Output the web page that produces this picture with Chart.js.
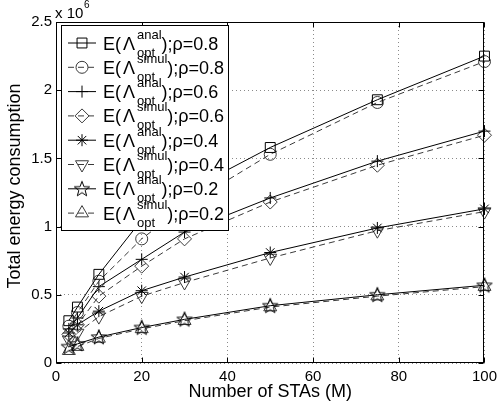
<!DOCTYPE html>
<html lang="en">

<head>
  <meta charset="UTF-8">
  <title>Total energy consumption vs number of STAs</title>
  <script src="https://cdn.jsdelivr.net/npm/chart.js"></script>
  <style>
    html, body { margin: 0; padding: 0; background: #fff; }
  </style>
</head>

<body>
  <canvas id="energyChart" width="502" height="412"></canvas>

  <script>
    // number of STAs (M) on the x axis
    const staCounts = [3, 5, 10, 20, 30, 50, 75, 100];

    // total energy consumption, in units of 10^6
    const anal08 = [0.31, 0.41, 0.65, 1.05, 1.25, 1.58, 1.93, 2.25];
    const simul08 = [0.27, 0.37, 0.60, 0.91, 1.15, 1.53, 1.91, 2.21];
    const anal06 = [0.25, 0.33, 0.56, 0.76, 0.96, 1.21, 1.48, 1.70];
    const simul06 = [0.21, 0.28, 0.49, 0.71, 0.91, 1.18, 1.45, 1.67];
    const anal04 = [0.22, 0.28, 0.38, 0.53, 0.63, 0.81, 0.99, 1.13];
    const simul04 = [0.17, 0.22, 0.34, 0.49, 0.59, 0.77, 0.97, 1.11];
    const anal02 = [0.12, 0.14, 0.19, 0.26, 0.32, 0.42, 0.50, 0.57];
    const simul02 = [0.09, 0.12, 0.18, 0.25, 0.31, 0.41, 0.49, 0.56];

    const xTicks = [0, 20, 40, 60, 80, 100];
    const yTicks = [0, 0.5, 1, 1.5, 2, 2.5];

    const family = '"Liberation Sans", Arial, Helvetica, sans-serif';
    Chart.defaults.font.family = family;
    Chart.defaults.color = '#000';

    // five pointed star marker (matlab 'p')
    function makePentagram() {
      const c = document.createElement('canvas');
      c.width = 18; c.height = 18;
      const g = c.getContext('2d');
      g.strokeStyle = '#000';
      g.lineWidth = 1;
      g.beginPath();
      for (let i = 0; i < 10; i++) {
        const r = i % 2 === 0 ? 8 : 3.3;
        const a = -Math.PI / 2 + i * Math.PI / 5;
        const px = 9 + r * Math.cos(a), py = 9.5 + r * Math.sin(a);
        if (i === 0) g.moveTo(px, py); else g.lineTo(px, py);
      }
      g.closePath();
      g.stroke();
      return c;
    }
    const pentagram = makePentagram();

    const series = [
      { kind: 'anal', rho: '0.8', values: anal08, style: 'rect', radius: 7, rot: 0 },
      { kind: 'simul', rho: '0.8', values: simul08, style: 'circle', radius: 6, rot: 0 },
      { kind: 'anal', rho: '0.6', values: anal06, style: 'cross', radius: 6, rot: 0 },
      { kind: 'simul', rho: '0.6', values: simul06, style: 'rectRot', radius: 7, rot: 0 },
      { kind: 'anal', rho: '0.4', values: anal04, style: 'star', radius: 6, rot: 0 },
      { kind: 'simul', rho: '0.4', values: simul04, style: 'triangle', radius: 7.5, rot: 180 },
      { kind: 'anal', rho: '0.2', values: anal02, style: pentagram, radius: 8, rot: 0 },
      { kind: 'simul', rho: '0.2', values: simul02, style: 'triangle', radius: 7.5, rot: 0 }
    ];

    const datasets = series.map(s => {
      const isAnal = s.kind === 'anal';
      const col = isAnal ? '#000' : '#3a3a3a';
      return {
        label: 'E(\u039B_opt^' + s.kind + ');\u03C1=' + s.rho,
        kind: s.kind,
        rho: s.rho,
        data: staCounts.map((m, i) => ({ x: m, y: s.values[i] })),
        showLine: true,
        borderColor: col,
        borderWidth: 1,
        borderDash: isAnal ? [] : [6, 4],
        pointStyle: s.style,
        pointRadius: s.radius,
        pointRotation: s.rot,
        pointBorderColor: col,
        pointBackgroundColor: 'rgba(0,0,0,0)',
        pointBorderWidth: 1,
        clip: false
      };
    });

    // matlab style box, inward ticks, legend with sub/superscripts, titles
    const matlabDecor = {
      id: 'matlabDecor',
      afterDatasetsDraw(chart) {
        const { ctx, chartArea: a, scales: { x, y } } = chart;
        const L = Math.round(a.left) + 0.5, R = Math.round(a.right) - 0.5;
        const T = Math.round(a.top) + 0.5, B = Math.round(a.bottom) - 0.5;
        ctx.save();
        ctx.setLineDash([]);
        ctx.strokeStyle = '#000';
        ctx.lineWidth = 1;
        ctx.strokeRect(L, T, R - L, B - T);

        ctx.beginPath();
        xTicks.forEach(v => {
          const px = Math.round(x.getPixelForValue(v)) + 0.5;
          ctx.moveTo(px, B); ctx.lineTo(px, B - 5);
          ctx.moveTo(px, T); ctx.lineTo(px, T + 5);
        });
        yTicks.forEach(v => {
          const py = Math.round(y.getPixelForValue(v)) + 0.5;
          ctx.moveTo(L, py); ctx.lineTo(L + 5, py);
          ctx.moveTo(R, py); ctx.lineTo(R - 5, py);
        });
        ctx.stroke();

        // exponent label
        ctx.fillStyle = '#000';
        ctx.textBaseline = 'alphabetic';
        ctx.textAlign = 'left';
        ctx.font = '15px ' + family;
        ctx.fillText('x 10', 55, 18);
        ctx.font = '10px ' + family;
        ctx.fillText('6', 84, 8);

        // axis titles
        ctx.font = '18px ' + family;
        ctx.textAlign = 'center';
        ctx.textBaseline = 'middle';
        ctx.fillText('Number of STAs (M)', (a.left + a.right) / 2, 392);
        ctx.save();
        ctx.translate(15, 186);
        ctx.rotate(-Math.PI / 2);
        ctx.fillText('Total energy consumption', 0, 0);
        ctx.restore();

        // legend
        const bx = 61.5, by = 25.5, bw = 167, bh = 205;
        ctx.fillStyle = '#fff';
        ctx.fillRect(bx, by, bw, bh);
        ctx.strokeStyle = '#000';
        ctx.strokeRect(bx, by, bw, bh);

        chart.data.datasets.forEach((ds, i) => {
          const cy = 43 + i * 24.3;
          ctx.save();
          ctx.strokeStyle = ds.borderColor;
          ctx.lineWidth = 1;
          ctx.setLineDash(ds.borderDash);
          ctx.beginPath();
          ctx.moveTo(68, cy); ctx.lineTo(96, cy);
          ctx.stroke();
          ctx.setLineDash([]);
          ctx.fillStyle = 'rgba(0,0,0,0)';
          Chart.helpers.drawPoint(ctx, {
            pointStyle: ds.pointStyle, rotation: ds.pointRotation,
            radius: ds.pointRadius, borderWidth: 1
          }, 82, cy);
          ctx.restore();

          const base = cy + 6.5;
          ctx.fillStyle = '#000';
          ctx.textAlign = 'left';
          ctx.textBaseline = 'alphabetic';
          ctx.font = '18px ' + family;
          let cx = 103;
          ctx.fillText('E(', cx, base);
          cx += ctx.measureText('E(').width + 2;
          ctx.fillText('\u039B', cx, base);
          cx += ctx.measureText('\u039B').width + 2;
          ctx.font = '13px ' + family;
          ctx.fillText(ds.kind, cx, base - 11);
          ctx.fillText('opt', cx, base + 7);
          cx += Math.max(ctx.measureText(ds.kind).width, ctx.measureText('opt').width);
          ctx.font = '18px ' + family;
          ctx.fillText(');\u03C1=' + ds.rho, cx, base);
        });
        ctx.restore();
      }
    };

    new Chart(document.getElementById('energyChart'), {
      type: 'scatter',
      data: { datasets: datasets },
      options: {
        responsive: false,
        animation: false,
        devicePixelRatio: 1,
        layout: { padding: { top: 22, right: 13, left: 0, bottom: 0 } },
        plugins: { legend: { display: false }, tooltip: { enabled: false } },
        scales: {
          x: {
            type: 'linear',
            min: 0,
            max: 100,
            afterBuildTicks: s => { s.ticks = xTicks.map(v => ({ value: v })); },
            ticks: { font: { size: 15 }, padding: 5, maxRotation: 0, color: '#000', callback: v => String(v) },
            grid: { color: '#8a8a8a', lineWidth: 1, drawTicks: false },
            border: { display: false, dash: [1, 3] },
            afterFit: s => { s.height = 49; }
          },
          y: {
            min: 0,
            max: 2.5,
            afterBuildTicks: s => { s.ticks = yTicks.map(v => ({ value: v })); },
            ticks: { font: { size: 15 }, padding: 4, color: '#000', callback: v => String(v) },
            grid: { color: '#8a8a8a', lineWidth: 1, drawTicks: false },
            border: { display: false, dash: [1, 3] },
            afterFit: s => { s.width = 56; }
          }
        }
      },
      plugins: [matlabDecor]
    });
  </script>
</body>

</html>
